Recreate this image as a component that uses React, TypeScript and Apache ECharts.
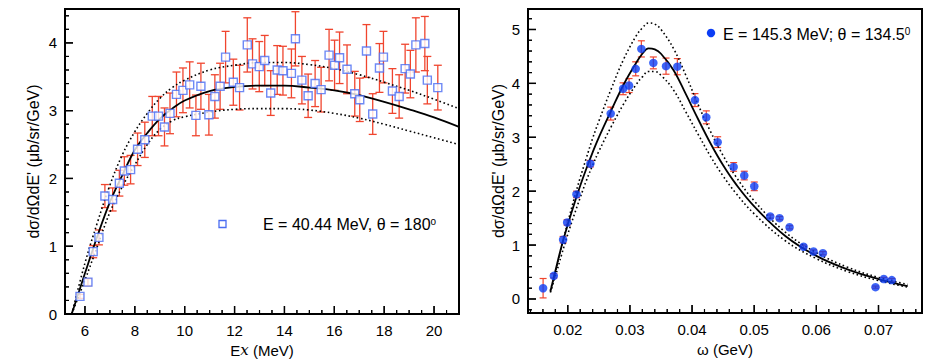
import React, { useEffect, useRef } from "react";
import * as echarts from "echarts";

// ---------- Left panel: E = 40.44 MeV, theta = 180 ----------
const leftX = [5.8, 6.12, 6.33, 6.56, 6.8, 7.11, 7.38, 7.58, 7.83, 8.11, 8.4, 8.7, 8.95, 9.19, 9.41, 9.67, 9.93, 10.2, 10.45, 10.65, 10.97, 11.21, 11.42, 11.64, 11.95, 12.2, 12.51, 12.72, 12.99, 13.21, 13.45, 13.71, 13.94, 14.28, 14.44, 14.7, 14.95, 15.23, 15.47, 15.79, 16.01, 16.21, 16.51, 16.82, 17.02, 17.29, 17.54, 17.81, 17.97, 18.33, 18.6, 18.84, 19.05, 19.27, 19.63, 19.73, 20.15];
const leftY = [0.26, 0.47, 0.92, 1.13, 1.74, 1.69, 1.93, 2.11, 2.13, 2.43, 2.57, 2.92, 2.92, 2.76, 2.96, 3.24, 3.3, 3.38, 2.93, 3.36, 2.94, 3.21, 3.36, 3.79, 3.42, 3.34, 3.97, 3.69, 3.65, 3.74, 3.26, 3.6, 3.59, 3.55, 4.06, 3.45, 3.22, 3.4, 3.31, 3.82, 3.67, 3.78, 3.61, 3.25, 3.16, 3.88, 2.95, 3.63, 3.79, 3.29, 3.21, 3.62, 3.54, 3.97, 3.99, 3.45, 3.34];
const leftErr = [0.03, 0.05, 0.09, 0.11, 0.17, 0.17, 0.19, 0.21, 0.21, 0.24, 0.26, 0.29, 0.29, 0.28, 0.3, 0.33, 0.33, 0.34, 0.3, 0.34, 0.3, 0.32, 0.34, 0.38, 0.34, 0.33, 0.4, 0.37, 0.37, 0.37, 0.33, 0.36, 0.36, 0.36, 0.4, 0.35, 0.32, 0.34, 0.33, 0.38, 0.37, 0.38, 0.36, 0.33, 0.32, 0.39, 0.3, 0.36, 0.38, 0.33, 0.32, 0.36, 0.35, 0.4, 0.4, 0.35, 0.33];

const leftCurveX = [5.47, 6, 6.5, 7, 7.5, 8, 8.5, 9, 9.5, 10, 11, 12, 13, 14, 15, 16, 17, 18, 19, 20, 21];
const leftSolid = [0, 0.6, 1.15, 1.65, 2.05, 2.42, 2.67, 2.88, 3.03, 3.15, 3.29, 3.35, 3.37, 3.37, 3.34, 3.3, 3.23, 3.13, 3.02, 2.9, 2.76];
const leftUpper = [0, 0.75, 1.35, 1.9, 2.35, 2.69, 2.96, 3.18, 3.34, 3.45, 3.6, 3.67, 3.71, 3.71, 3.68, 3.62, 3.53, 3.42, 3.3, 3.17, 3.03];
const leftLower = [0, 0.5, 1.0, 1.5, 1.88, 2.2, 2.5, 2.72, 2.85, 2.91, 2.98, 3.02, 3.03, 3.03, 3.01, 2.96, 2.89, 2.8, 2.7, 2.6, 2.5];

const leftXMajor = [6, 8, 10, 12, 14, 16, 18, 20];
const leftXMinor = [5.5, 6.5, 7, 7.5, 8.5, 9, 9.5, 10.5, 11, 11.5, 12.5, 13, 13.5, 14.5, 15, 15.5, 16.5, 17, 17.5, 18.5, 19, 19.5, 20.5];
const leftYMajor = [0, 1, 2, 3, 4];
const leftYMinor = [0.2, 0.4, 0.6, 0.8, 1.2, 1.4, 1.6, 1.8, 2.2, 2.4, 2.6, 2.8, 3.2, 3.4, 3.6, 3.8, 4.2, 4.4];

// ---------- Right panel: E = 145.3 MeV, theta = 134.5 ----------
const rightX = [0.01603, 0.01775, 0.01925, 0.0199, 0.0214, 0.02364, 0.02691, 0.0289, 0.02986, 0.03093, 0.03184, 0.03377, 0.03581, 0.03763, 0.04047, 0.04229, 0.04412, 0.04669, 0.0484, 0.05001, 0.05258, 0.05408, 0.05569, 0.05794, 0.05955, 0.06105, 0.06952, 0.07086, 0.07214];
const rightY = [0.2, 0.43, 1.1, 1.42, 1.94, 2.51, 3.44, 3.9, 3.96, 4.27, 4.64, 4.38, 4.32, 4.31, 3.69, 3.37, 2.91, 2.45, 2.29, 2.09, 1.53, 1.5, 1.33, 0.97, 0.88, 0.85, 0.22, 0.37, 0.35];
const rightErr = [0.18, 0.04, 0.06, 0.05, 0.06, 0.06, 0.12, 0.11, 0.13, 0.13, 0.15, 0.11, 0.15, 0.15, 0.12, 0.12, 0.1, 0.08, 0.08, 0.08, 0.03, 0.03, 0.03, 0.03, 0.03, 0.03, 0.02, 0.03, 0.03];

const rightCurveX = [0.0172, 0.018, 0.019, 0.02, 0.021, 0.022, 0.023, 0.024, 0.025, 0.027, 0.029, 0.031, 0.032, 0.033, 0.034, 0.035, 0.037, 0.039, 0.041, 0.043, 0.045, 0.047, 0.05, 0.055, 0.06, 0.065, 0.07, 0.0747];
const rightSolid = [0.14, 0.52, 0.98, 1.38, 1.75, 2.1, 2.42, 2.72, 3.0, 3.5, 3.98, 4.38, 4.55, 4.65, 4.63, 4.55, 4.25, 3.8, 3.33, 2.88, 2.48, 2.14, 1.72, 1.17, 0.8, 0.55, 0.37, 0.24];
const rightUpper = [0.16, 0.5, 0.98, 1.42, 1.85, 2.25, 2.62, 2.98, 3.3, 3.9, 4.45, 4.88, 5.03, 5.12, 5.1, 5.0, 4.65, 4.15, 3.6, 3.1, 2.66, 2.28, 1.82, 1.24, 0.86, 0.59, 0.4, 0.27];
const rightLower = [0.12, 0.42, 0.82, 1.2, 1.55, 1.88, 2.2, 2.48, 2.74, 3.2, 3.62, 3.98, 4.12, 4.22, 4.22, 4.15, 3.88, 3.47, 3.05, 2.64, 2.28, 1.97, 1.58, 1.08, 0.75, 0.51, 0.34, 0.22];

const rightXMajor = [0.02, 0.03, 0.04, 0.05, 0.06, 0.07];
const rightXMinor = [0.014, 0.016, 0.018, 0.022, 0.024, 0.026, 0.028, 0.032, 0.034, 0.036, 0.038, 0.042, 0.044, 0.046, 0.048, 0.052, 0.054, 0.056, 0.058, 0.062, 0.064, 0.066, 0.068, 0.072, 0.074, 0.076];
const rightYMajor = [0, 1, 2, 3, 4, 5];
const rightYMinor = [-0.2, 0.2, 0.4, 0.6, 0.8, 1.2, 1.4, 1.6, 1.8, 2.2, 2.4, 2.6, 2.8, 3.2, 3.4, 3.6, 3.8, 4.2, 4.4, 4.6, 4.8, 5.2];

const LEFT_X_RANGE = [5.2, 21];
const LEFT_Y_RANGE = [0, 4.5];
const RIGHT_X_RANGE = [0.0136, 0.077];
const RIGHT_Y_RANGE = [-0.26, 5.38];

const FONT = "'Liberation Sans', Arial, Helvetica, sans-serif";
const ERR_COLOR = "#f0452e";
const SQUARE_COLOR = "#4a6cf2";
const DOT_COLOR = "#0b3df5";

function zip(xs: number[], ys: number[]) {
  return xs.map((x, i) => [x, ys[i]]);
}

function errData(xs: number[], ys: number[], es: number[]) {
  return xs.map((x, i) => [x, ys[i] - es[i], ys[i] + es[i]]);
}

function errRender(capHalf: number, width: number) {
  return (_params: any, api: any) => {
    const x = api.value(0);
    const p1 = api.coord([x, api.value(1)]);
    const p2 = api.coord([x, api.value(2)]);
    const style = { stroke: ERR_COLOR, lineWidth: width };
    return {
      type: "group",
      children: [
        { type: "line", shape: { x1: p1[0], y1: p1[1], x2: p2[0], y2: p2[1] }, style },
        { type: "line", shape: { x1: p1[0] - capHalf, y1: p1[1], x2: p1[0] + capHalf, y2: p1[1] }, style },
        { type: "line", shape: { x1: p2[0] - capHalf, y1: p2[1], x2: p2[0] + capHalf, y2: p2[1] }, style },
      ],
    };
  };
}

// Inward axis ticks, placed through the axis scales (custom series).
function tickSeries(grid: number, dim: "x" | "y", values: number[], xRange: number[], yRange: number[], len: number, width: number) {
  const edge = dim === "x" ? yRange[0] : xRange[0];
  return {
    type: "custom",
    xAxisIndex: grid,
    yAxisIndex: grid,
    silent: true,
    clip: false,
    z: 6,
    data: values.map((v) => (dim === "x" ? [v, edge] : [edge, v])),
    encode: { x: 0, y: 1 },
    renderItem: (_params: any, api: any) => {
      const p = api.coord([api.value(0), api.value(1)]);
      const x2 = dim === "x" ? p[0] : p[0] + len;
      const y2 = dim === "x" ? p[1] - len : p[1];
      return {
        type: "group",
        children: [
          { type: "line", shape: { x1: p[0], y1: p[1], x2, y2 }, style: { stroke: "#000", lineWidth: width } },
        ],
      };
    },
  };
}

function valueAxis(dim: "x" | "y", gridIndex: number, range: number[], labels: number[], extra: any = {}) {
  return {
    type: "value",
    gridIndex,
    min: range[0],
    max: range[1],
    position: dim === "x" ? "bottom" : "left",
    axisLine: { show: false, onZero: false },
    splitLine: { show: false },
    axisTick: { show: false },
    axisLabel: { show: true, customValues: labels, color: "#000", fontSize: 15, fontFamily: FONT, margin: dim === "x" ? 9 : 8 },
    ...extra,
  };
}

const nameStyle = { color: "#000", fontSize: 15, fontFamily: FONT };

const legendGraphics: any[] = [
  { type: "rect", shape: { x: 219, y: 220.5, width: 7, height: 7 }, style: { fill: "#fff", stroke: SQUARE_COLOR, lineWidth: 1.3 }, z: 10 },
  {
    type: "text",
    x: 263,
    y: 224,
    z: 10,
    style: {
      text: "E = 40.44 MeV, θ = 180{sup|o}",
      fill: "#000",
      font: `16px ${FONT}`,
      verticalAlign: "middle",
      rich: { sup: { fontSize: 10, fontFamily: FONT, verticalAlign: "top", fill: "#000" } },
    },
  },
  { type: "circle", shape: { cx: 711, cy: 33, r: 4.2 }, style: { fill: DOT_COLOR }, z: 10 },
  {
    type: "text",
    x: 723,
    y: 34,
    z: 10,
    style: {
      text: "E = 145.3 MeV; θ = 134.5{sup|0}",
      fill: "#000",
      font: `16px ${FONT}`,
      verticalAlign: "middle",
      rich: { sup: { fontSize: 10, fontFamily: FONT, verticalAlign: "top", fill: "#000" } },
    },
  },
];

export default function App() {
  const ref = useRef<HTMLDivElement>(null);
  useEffect(() => {
    if (!ref.current) return;
    const chart = echarts.init(ref.current, null, { renderer: "svg" });
    const lineBase = (xi: number, data: number[][], dotted: boolean) => ({
      type: "line",
      xAxisIndex: xi,
      yAxisIndex: xi,
      data,
      showSymbol: false,
      smooth: 0.4,
      lineStyle: dotted ? { color: "#000", width: 1.6, type: [1.6, 2.6] } : { color: "#000", width: 1.8 },
      z: 3,
      silent: true,
    });
    chart.setOption({
      animation: false,
      grid: [
        { left: 65, top: 9, width: 394, height: 305, show: true, borderColor: "#000", borderWidth: 2, backgroundColor: "transparent" },
        { left: 528, top: 9, width: 394, height: 304, show: true, borderColor: "#000", borderWidth: 2, backgroundColor: "transparent" },
      ],
      xAxis: [
        valueAxis("x", 0, LEFT_X_RANGE, leftXMajor, {
          name: "E{i|x} (MeV)",
          nameLocation: "middle",
          nameGap: 27,
          nameTextStyle: { ...nameStyle, rich: { i: { fontFamily: "'DejaVu Serif', serif", fontStyle: "italic", fontSize: 15, color: "#000" } } },
        }),
        valueAxis("x", 1, RIGHT_X_RANGE, rightXMajor, {
          name: "ω (GeV)",
          nameLocation: "middle",
          nameGap: 27,
          nameTextStyle: nameStyle,
        }),
      ],
      yAxis: [
        valueAxis("y", 0, LEFT_Y_RANGE, leftYMajor, {
          name: "dσ/dΩdE' (μb/sr/GeV)",
          nameLocation: "middle",
          nameGap: 24,
          nameTextStyle: { ...nameStyle, fontSize: 16 },
        }),
        valueAxis("y", 1, RIGHT_Y_RANGE, rightYMajor, {
          name: "dσ/dΩdE' (μb/sr/GeV)",
          nameLocation: "middle",
          nameGap: 22,
          nameTextStyle: { ...nameStyle, fontSize: 16 },
        }),
      ],
      series: [
        {
          type: "custom",
          xAxisIndex: 0,
          yAxisIndex: 0,
          renderItem: errRender(4, 1.3),
          data: errData(leftX, leftY, leftErr),
          encode: { x: 0, y: [1, 2] },
          z: 2,
          silent: true,
        },
        lineBase(0, zip(leftCurveX, leftSolid), false),
        lineBase(0, zip(leftCurveX, leftUpper), true),
        lineBase(0, zip(leftCurveX, leftLower), true),
        {
          type: "scatter",
          xAxisIndex: 0,
          yAxisIndex: 0,
          data: zip(leftX, leftY),
          symbol: "rect",
          symbolSize: 8,
          itemStyle: { color: "#fff", borderColor: SQUARE_COLOR, borderWidth: 1.4 },
          z: 4,
        },
        {
          type: "custom",
          xAxisIndex: 1,
          yAxisIndex: 1,
          renderItem: errRender(3.5, 1.2),
          data: errData(rightX, rightY, rightErr),
          encode: { x: 0, y: [1, 2] },
          z: 2,
          silent: true,
        },
        lineBase(1, zip(rightCurveX, rightSolid), false),
        lineBase(1, zip(rightCurveX, rightUpper), true),
        lineBase(1, zip(rightCurveX, rightLower), true),
        {
          type: "scatter",
          xAxisIndex: 1,
          yAxisIndex: 1,
          data: zip(rightX, rightY),
          symbol: "circle",
          symbolSize: 8.5,
          itemStyle: { color: DOT_COLOR },
          z: 4,
        },
        tickSeries(0, "x", leftXMajor, LEFT_X_RANGE, LEFT_Y_RANGE, 8, 1.3),
        tickSeries(0, "x", leftXMinor, LEFT_X_RANGE, LEFT_Y_RANGE, 4, 1.1),
        tickSeries(0, "y", leftYMajor, LEFT_X_RANGE, LEFT_Y_RANGE, 8, 1.3),
        tickSeries(0, "y", leftYMinor, LEFT_X_RANGE, LEFT_Y_RANGE, 4, 1.1),
        tickSeries(1, "x", rightXMajor, RIGHT_X_RANGE, RIGHT_Y_RANGE, 8, 1.3),
        tickSeries(1, "x", rightXMinor, RIGHT_X_RANGE, RIGHT_Y_RANGE, 4, 1.1),
        tickSeries(1, "y", rightYMajor, RIGHT_X_RANGE, RIGHT_Y_RANGE, 8, 1.3),
        tickSeries(1, "y", rightYMinor, RIGHT_X_RANGE, RIGHT_Y_RANGE, 4, 1.1),
      ],
      graphic: legendGraphics,
    });

    // Also place the ticks as graphic lines, positioned by the axes' own scales.
    try {
      const tickGraphics: any[] = [];
      const addTicks = (grid: number, dim: "x" | "y", values: number[], xRange: number[], yRange: number[], len: number, width: number) => {
        values.forEach((v) => {
          const pt = chart.convertToPixel({ gridIndex: grid } as any, dim === "x" ? [v, yRange[0]] : [xRange[0], v]) as number[];
          if (!pt || isNaN(pt[0]) || isNaN(pt[1])) return;
          tickGraphics.push({
            type: "line",
            z: 50,
            silent: true,
            shape: dim === "x" ? { x1: pt[0], y1: pt[1], x2: pt[0], y2: pt[1] - len } : { x1: pt[0], y1: pt[1], x2: pt[0] + len, y2: pt[1] },
            style: { stroke: "#000", lineWidth: width },
          });
        });
      };
      addTicks(0, "x", leftXMajor, LEFT_X_RANGE, LEFT_Y_RANGE, 8, 1.3);
      addTicks(0, "x", leftXMinor, LEFT_X_RANGE, LEFT_Y_RANGE, 4, 1.1);
      addTicks(0, "y", leftYMajor, LEFT_X_RANGE, LEFT_Y_RANGE, 8, 1.3);
      addTicks(0, "y", leftYMinor, LEFT_X_RANGE, LEFT_Y_RANGE, 4, 1.1);
      addTicks(1, "x", rightXMajor, RIGHT_X_RANGE, RIGHT_Y_RANGE, 8, 1.3);
      addTicks(1, "x", rightXMinor, RIGHT_X_RANGE, RIGHT_Y_RANGE, 4, 1.1);
      addTicks(1, "y", rightYMajor, RIGHT_X_RANGE, RIGHT_Y_RANGE, 8, 1.3);
      addTicks(1, "y", rightYMinor, RIGHT_X_RANGE, RIGHT_Y_RANGE, 4, 1.1);
      chart.setOption({ graphic: [...legendGraphics, { type: "group", z: 50, children: tickGraphics }] });
    } catch (e) {
      // keep the chart as drawn
    }

    return () => chart.dispose();
  }, []);
  return <div ref={ref} style={{ position: "fixed", left: 0, top: 0, width: 926, height: 363, background: "#fff" }} />;
}
